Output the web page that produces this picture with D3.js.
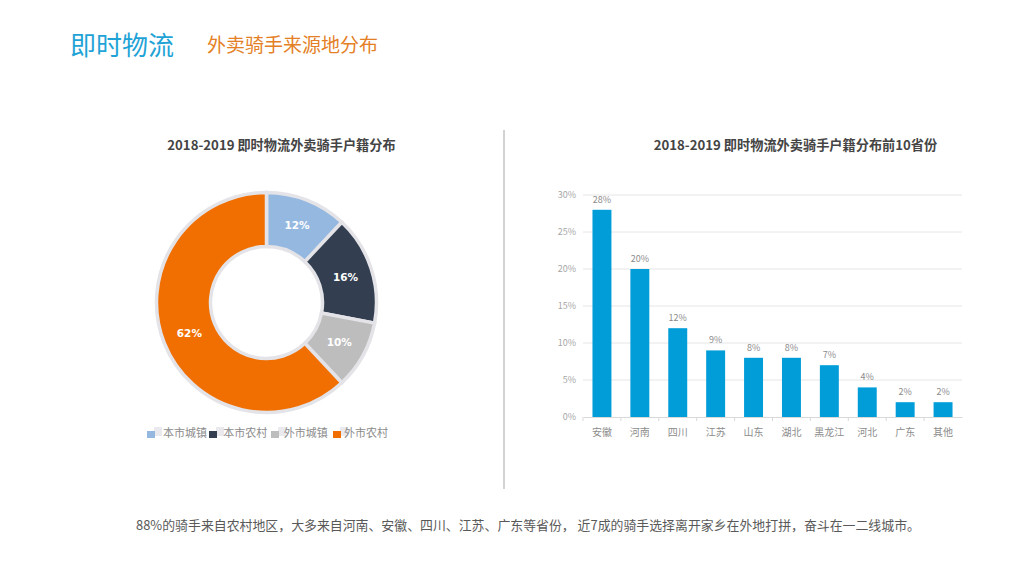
<!DOCTYPE html>
<html>
<head>
<meta charset="utf-8">
<script src="https://cdn.jsdelivr.net/npm/d3@7/dist/d3.min.js"></script>
<style>
    html, body { margin: 0; padding: 0; background: #fff; }
    svg { display: block; }
    text { font-family: "Noto Sans CJK SC", "Noto Sans", sans-serif; }
</style>
</head>
<body>
<svg id="chart" width="1024" height="576"></svg>
<script>
const pie_categories = ["本市城镇", "本市农村", "外市城镇", "外市农村"]
const pie_values = [12, 16, 10, 62]
const pie_colors = ["#95b8e0", "#333f50", "#bdbdbd", "#f06f00"]

const bar_categories = ["安徽", "河南", "四川", "江苏", "山东", "湖北", "黑龙江", "河北", "广东", "其他"]
const bar_values = [28, 20, 12, 9, 8, 8, 7, 4, 2, 2]
const bar_ticks = [0, 5, 10, 15, 20, 25, 30]

const svg = d3.select("#chart")

function add_text(x, y, str, size, fill, {anchor="middle", weight=400}={}) {
    return svg.append("text")
        .attr("x", x).attr("y", y)
        .attr("text-anchor", anchor)
        .attr("font-size", size)
        .attr("font-weight", weight)
        .attr("fill", fill)
        .text(str)
}

// header
add_text(70, 55, "即时物流", 26, "#1fa3d6", {anchor: "start"})
add_text(207, 52, "外卖骑手来源地分布", 19, "#e47f26", {anchor: "start"})

// chart titles
add_text(281.5, 150, "2018-2019 即时物流外卖骑手户籍分布", 13.2, "#444", {weight: 700})
add_text(795.5, 150, "2018-2019 即时物流外卖骑手户籍分布前10省份", 13.2, "#444", {weight: 700})

// divider
svg.append("line")
    .attr("x1", 504).attr("x2", 504)
    .attr("y1", 130).attr("y2", 489)
    .attr("stroke", "#a6a6a6")
    .attr("stroke-width", 1)

// donut
const donut = svg.append("g").attr("transform", "translate(266.5,302.5)")
const arcs = d3.pie().sort(null)(pie_values)
const arc = d3.arc().innerRadius(56).outerRadius(110)

donut.selectAll("path")
    .data(arcs)
    .join("path")
    .attr("d", arc)
    .attr("fill", (d, i) => pie_colors[i])
    .attr("stroke", "#e3e3e8")
    .attr("stroke-width", 3.5)

const label_arc = d3.arc().innerRadius(83).outerRadius(83)
donut.selectAll("text")
    .data(arcs)
    .join("text")
    .attr("transform", d => `translate(${label_arc.centroid(d)})`)
    .attr("dy", "0.35em")
    .attr("text-anchor", "middle")
    .attr("font-size", 10.5)
    .attr("font-weight", 700)
    .style("font-family", "'DejaVu Sans'")
    .attr("fill", "#fff")
    .text(d => d.value + "%")

// donut legend, the pale squares are the ghost swatches of the original
const swatch_x = d3.scalePoint().domain(pie_categories).range([147, 333])
const legend_x = d3.scalePoint().domain(pie_categories).range([163, 344])
pie_categories.forEach((name, i) => {
    let x = swatch_x(name)
    svg.append("rect")
        .attr("x", x + 7).attr("y", 427)
        .attr("width", 8).attr("height", 9)
        .attr("fill", "#e9e9ee")
    svg.append("rect")
        .attr("x", x).attr("y", 431)
        .attr("width", 8).attr("height", 7)
        .attr("fill", pie_colors[i])
    add_text(legend_x(name), 437, name, 11, "#8c8c8c", {anchor: "start"})
})

// bars
const x = d3.scaleBand().domain(bar_categories).range([583, 962]).paddingInner(0.5).paddingOuter(0.25)
const y = d3.scaleLinear().domain([0, 30]).range([417, 195])

svg.append("g")
    .selectAll("line")
    .data(bar_ticks.slice(1))
    .join("line")
    .attr("x1", 583).attr("x2", 962)
    .attr("y1", d => y(d)).attr("y2", d => y(d))
    .attr("stroke", "#e6e6e6")

const y_axis = svg.append("g")
    .attr("transform", "translate(577,0)")
    .call(d3.axisLeft(y).tickValues(bar_ticks).tickSize(0).tickFormat(d => d + "%"))
y_axis.select(".domain").remove()
y_axis.selectAll("text")
    .attr("x", -1)
    .attr("font-size", 9)
    .attr("font-family", null)
    .attr("fill", "#a6a6a6")

const x_axis = svg.append("g")
    .attr("transform", "translate(0,417)")
    .call(d3.axisBottom(x).tickSize(0).tickPadding(12))
x_axis.select(".domain").attr("stroke", "#d9d9d9")
x_axis.selectAll("text")
    .attr("font-size", 10)
    .attr("font-family", null)
    .attr("fill", "#8c8c8c")

// ticks sit between the categories
svg.append("g")
    .selectAll("line")
    .data(bar_categories)
    .join("line")
    .attr("x1", d => x(d) - x.step() * 0.25)
    .attr("x2", d => x(d) - x.step() * 0.25)
    .attr("y1", 417).attr("y2", 421)
    .attr("stroke", "#d9d9d9")

svg.append("g")
    .selectAll("rect")
    .data(bar_values)
    .join("rect")
    .attr("x", (d, i) => x(bar_categories[i]))
    .attr("y", d => y(d))
    .attr("width", x.bandwidth())
    .attr("height", d => y(0) - y(d))
    .attr("fill", "#009dd9")

svg.append("g")
    .selectAll("text")
    .data(bar_values)
    .join("text")
    .attr("x", (d, i) => x(bar_categories[i]) + x.bandwidth() / 2)
    .attr("y", d => y(d) - 7)
    .attr("text-anchor", "middle")
    .attr("font-size", 9)
    .attr("fill", "#8c8c8c")
    .text(d => d + "%")

// footer note
add_text(528, 530, "88%的骑手来自农村地区，大多来自河南、安徽、四川、江苏、广东等省份， 近7成的骑手选择离开家乡在外地打拼，奋斗在一二线城市。", 12.9, "#595959")
</script>
</body>
</html>
